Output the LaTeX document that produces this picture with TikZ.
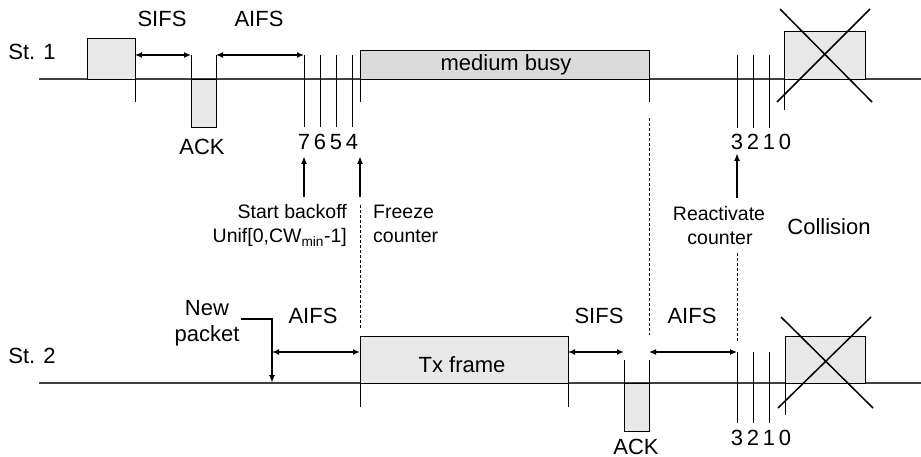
\documentclass[tikz,border=0pt]{standalone}
\usepackage{fontspec}
\setmainfont{Liberation Sans}
\usetikzlibrary{arrows.meta,calc}
\definecolor{SlotClr}{rgb}{0.91,0.91,0.91}
\definecolor{BusyClr}{rgb}{0.86,0.86,0.86}
\definecolor{AxisClr}{rgb}{0.25,0.25,0.25}

\begin{document}
\begin{tikzpicture}[x=1pt,y=-1pt,
  axisline/.style={line width=1.5pt,color=AxisClr},
  slotbox/.style={draw=black,line width=0.6pt,fill=SlotClr},
  slotline/.style={line width=0.6pt,color=black},
  gaparrow/.style={{Latex[length=7pt,width=6pt]}-{Latex[length=7pt,width=6pt]},line width=1.5pt},
  trigger/.style={-{Latex[length=8pt,width=6pt]},line width=2pt},
  guide/.style={line width=0.6pt,dash pattern=on 3pt off 2pt},
  xline/.style={line width=1.5pt},
  lab/.style={font=\fontsize{22}{24}\selectfont,inner sep=0pt},
  note/.style={font=\fontsize{19.5}{21}\selectfont,inner sep=0pt}]
\useasboundingbox (0,0) rectangle (921,457);

% time axes
\coordinate (S1a) at (39,79);  \coordinate (S1b) at (921,79);
\coordinate (S2a) at (39,383); \coordinate (S2b) at (921,383);
\draw[axisline] (S1a) -- (S1b);
\draw[axisline] (S2a) -- (S2b);
\node[lab,anchor=base] (st1) at (32,60) {St. 1};
\node[lab,anchor=base] (st2) at (32,363) {St. 2};

% station 1
\draw[slotbox] (87,38) rectangle (135,79);
\draw[slotline] (135,38) -- (135,102);
\coordinate (D1) at (135,55); \coordinate (A1) at (191,55);
\coordinate (A2) at (216,55); \coordinate (B7) at (304,55);
\draw[slotbox] (191,79) rectangle (216,127);
\draw[slotline] (191,55) -- (191,127);
\draw[slotline] (216,55) -- (216,127);
\draw[gaparrow] (D1) -- (A1);
\draw[gaparrow] (A2) -- (B7);
\node[lab,anchor=base] (sifsA) at (162,27) {SIFS};
\node[lab,anchor=base] (aifsA) at (259,27) {AIFS};
\node[lab,anchor=base] (ackA) at (202,155) {ACK};

\foreach \x/\n in {304/7,320/6,336/5,352/4}{
  \draw[slotline] (\x,55) -- (\x,127);
  \node[lab,anchor=base] (c\n) at (\x,150) {\n};
}

\draw[slotbox,fill=BusyClr] (360,50) rectangle (649,79);
\draw[slotline] (360,50) -- (360,102);
\draw[slotline] (649,50) -- (649,102);
\node[lab,anchor=base] (busy) at (506,71) {medium busy};

\coordinate (T7) at (304,197); \coordinate (T7h) at (304,156);
\coordinate (T4) at (360,197); \coordinate (T4h) at (360,156);
\draw[trigger] (T7) -- (T7h);
\draw[trigger] (T4) -- (T4h);
\node[note,anchor=base east] (start) at (347,219) {Start backoff};
\node[note,anchor=base east] (unif) at (347,243) {Unif[0,CW\textsubscript{min}-1]};
\node[note,anchor=base west] (frz) at (373,219) {Freeze};
\node[note,anchor=base west] (frzc) at (373,243) {counter};

\foreach \x/\n in {737/3,753/2,769/1}{
  \draw[slotline] (\x,55) -- (\x,128);
  \node[lab,anchor=base] (c\n) at (\x,150) {\n};
}
\node[lab,anchor=base] (c0) at (785,150) {0};
\draw[slotbox] (784,31) rectangle (865,79);
\draw[slotline] (784,31) -- (784,110);
\draw[xline] (777,102) -- (870,9);
\draw[xline] (780,9) -- (872,102);

\coordinate (T3) at (737,198); \coordinate (T3h) at (737,153);
\draw[trigger] (T3) -- (T3h);
\node[note,anchor=base] (react) at (719,221) {Reactivate};
\node[note,anchor=base] (reactc) at (720,244) {counter};
\node[lab,anchor=base] (coll) at (829,235) {Collision};

% dashed guides
\draw[guide] (360,205) -- (360,329);
\draw[guide] (649,118) -- (649,335);
\draw[guide] (737,253) -- (737,343);

% station 2
\node[lab,anchor=base] (new) at (207,315) {New};
\node[lab,anchor=base] (pkt) at (207,341) {packet};
\coordinate (N0) at (241,319); \coordinate (N1) at (272,319);
\coordinate (N2) at (272,383);
\draw[trigger] (N0) -- (N1) -- (N2);

\coordinate (E1) at (272,352); \coordinate (E2) at (360,352);
\draw[gaparrow] (E1) -- (E2);
\node[lab,anchor=base] (aifsB) at (313,323) {AIFS};

\draw[slotbox] (360,336) rectangle (568,383);
\draw[slotline] (360,336) -- (360,407);
\draw[slotline] (568,336) -- (568,407);
\node[lab,anchor=base] (tx) at (462,372) {Tx frame};

\coordinate (E3) at (568,352); \coordinate (E4) at (624,352);
\draw[gaparrow] (E3) -- (E4);
\node[lab,anchor=base] (sifsB) at (599,323) {SIFS};

\draw[slotbox] (624,383) rectangle (649,431);
\draw[slotline] (624,360) -- (624,431);
\draw[slotline] (649,360) -- (649,431);
\node[lab,anchor=base] (ackB) at (636,454) {ACK};

\coordinate (E5) at (649,352); \coordinate (E6) at (737,352);
\draw[gaparrow] (E5) -- (E6);
\node[lab,anchor=base] (aifsC) at (692,323) {AIFS};

\foreach \x/\n in {737/3,753/2,769/1}{
  \draw[slotline] (\x,352) -- (\x,423);
  \node[lab,anchor=base] (d\n) at (\x,445) {\n};
}
\node[lab,anchor=base] (d0) at (785,445) {0};
\draw[slotbox] (785,336) rectangle (865,383);
\draw[slotline] (785,336) -- (785,415);
\draw[xline] (778,408) -- (871,317);
\draw[xline] (781,317) -- (873,408);

\end{tikzpicture}
\end{document}
